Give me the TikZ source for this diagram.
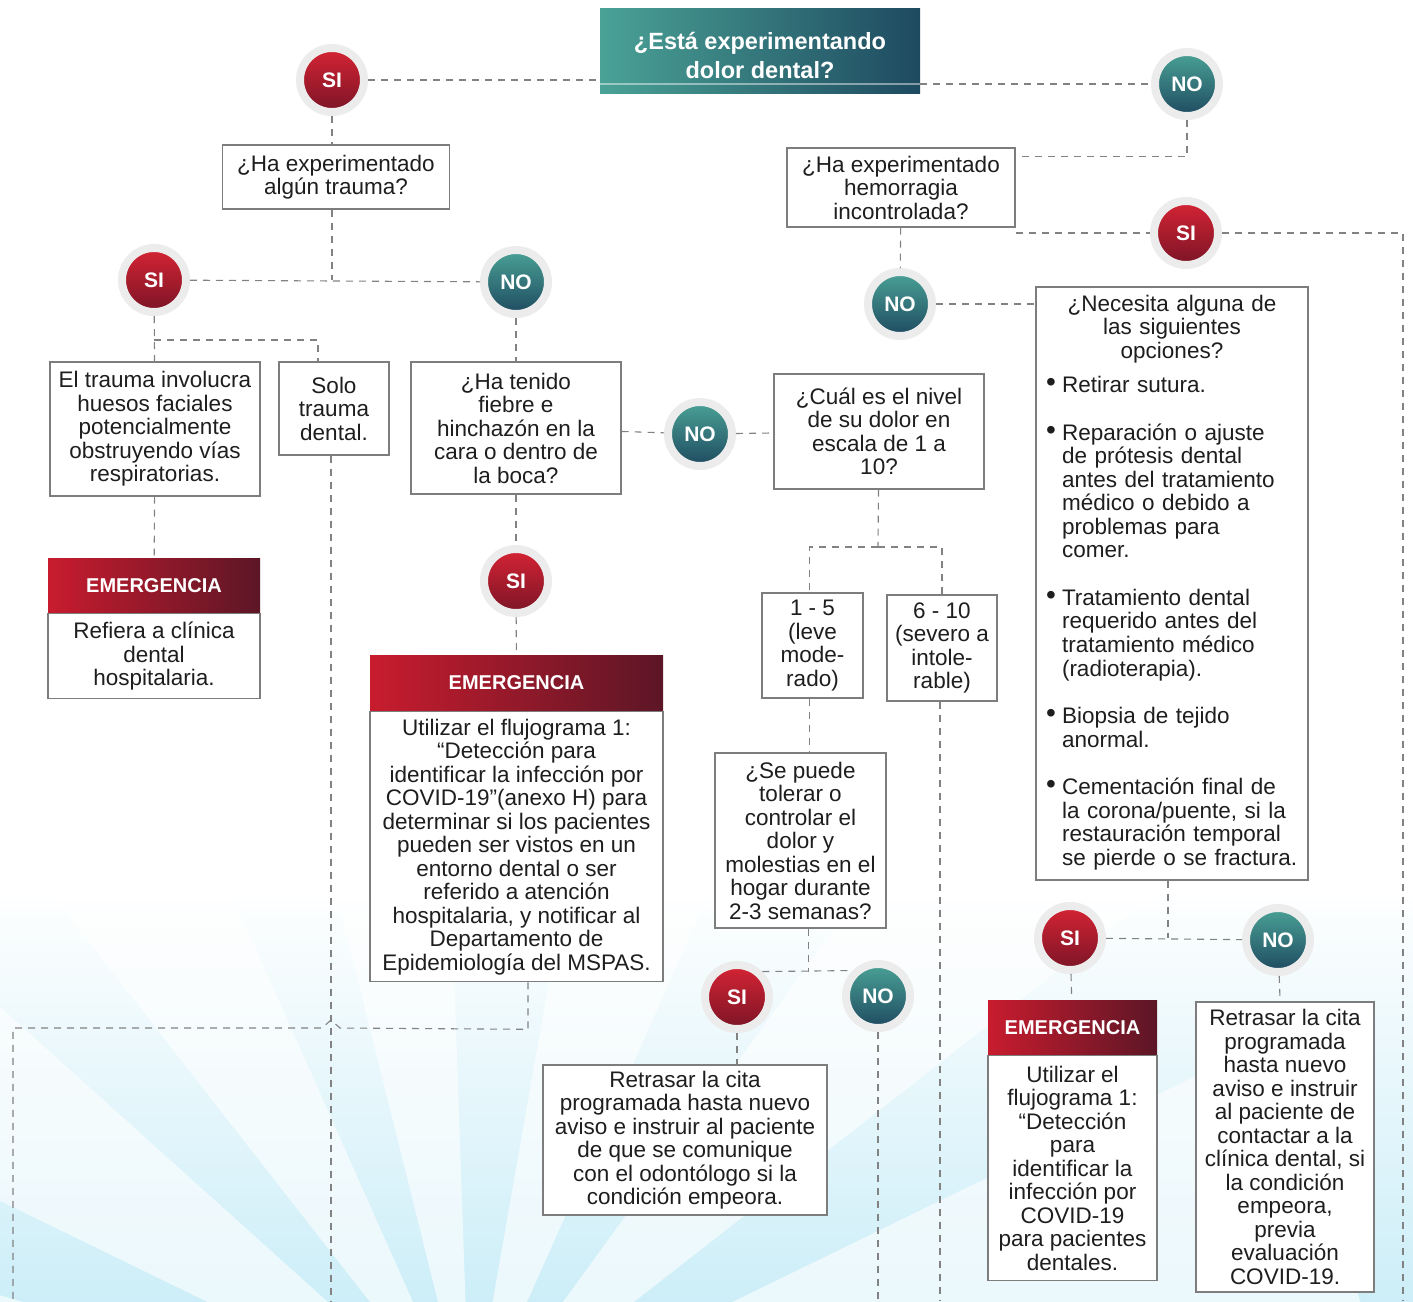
\documentclass[tikz,border=0pt]{standalone}
\usepackage{fontspec}
\setmainfont{Liberation Sans}
\usepackage{tikz}
\usetikzlibrary{positioning}
\usetikzlibrary{calc}

\definecolor{tealL}{RGB}{74,162,150}
\definecolor{tealD}{RGB}{30,74,96}
\definecolor{redL}{RGB}{214,36,52}
\definecolor{redD}{RGB}{122,20,38}
\definecolor{emL}{RGB}{200,28,46}
\definecolor{emD}{RGB}{92,22,38}
\definecolor{boxgray}{RGB}{125,125,125}
\definecolor{linegray}{RGB}{130,130,130}
\definecolor{halo}{RGB}{236,236,236}
\definecolor{txt}{RGB}{30,30,30}
\definecolor{sky}{RGB}{205,238,248}

\newcommand{\bodyfont}{\fontsize{22.5}{23.5}\selectfont}
\newcommand{\headfont}{\fontsize{20}{22}\selectfont\bfseries}
\newcommand{\circfont}{\fontsize{21}{22}\selectfont\bfseries}
\newcommand{\qfont}{\fontsize{23.5}{29}\selectfont\bfseries}
\newcommand{\bul}{\makebox[16pt][l]{\raisebox{1pt}{\fontsize{28}{23.5}\selectfont\textbullet}}}
\newcommand{\opcion}[1]{\bul\begin{tabular}[t]{@{}l@{}}#1\end{tabular}\par}

\begin{document}
\begin{tikzpicture}[x=1pt, y=-1pt,
    every node/.style={text=txt},
    qbox/.style={draw=boxgray, line width=1.1pt, fill=white, align=center, inner sep=3pt, font=\bodyfont},
    conn/.style={draw=linegray, line width=1.1pt, dash pattern=on 7pt off 6pt},
    sinode/.style={circle, minimum size=64, inner sep=0pt, draw=halo, line width=8pt, top color=redL, bottom color=redD, text=white, font=\circfont},
    nonode/.style={sinode, top color=tealL, bottom color=tealD},
    emhead/.style={minimum height=55, inner sep=0pt, left color=emL, right color=emD, text=white, font=\headfont}]

      \useasboundingbox (0,0) rectangle (1413,1301);

      % Background rays
      \shade[top color=white, bottom color=sky] (0,880) rectangle (1413,1301);
      \coordinate (focus) at (470,1430);
      \foreach \a/\b in {180/196, 206/222, 232/246, 256/268, 280/294, 306/322, 334/352} {
        \fill[white, opacity=0.6] (focus) -- ++(\a:900) -- ++($(\b:900)-(\a:900)$) -- cycle;
      }
      \fill[white] (0,0) rectangle (1413,900);

      % Top question
      \node[minimum width=320, minimum height=85, left color=tealL, right color=tealD] (qdolor) at (760,50.5) {};
      \draw[white, opacity=0.45, line width=1.5pt] ([yshift=9pt]qdolor.south west) -- ([yshift=9pt]qdolor.south east);
      \node[text=white, font=\qfont, align=center] (qdolortxt) at (760,55) {¿Está experimentando\\ dolor dental?};
      \node[sinode] (si1) at (332,80) {SI};
      \node[nonode] (no1) at (1187,84) {NO};

      % Trauma branch
      \node[qbox, minimum width=227, minimum height=64] (qtrauma) at (336,177) {¿Ha experimentado\\ algún trauma?};
      \node[sinode] (si2) at (154,280) {SI};
      \node[nonode] (no2) at (516,282) {NO};
      \node[qbox, minimum width=210, minimum height=134] (trauma) at (155,429) {El trauma involucra\\ huesos faciales\\ potencialmente\\ obstruyendo vías\\ respiratorias.};
      \node[qbox, minimum width=110, minimum height=93] (solo) at (334,408.5) {Solo\\ trauma\\ dental.};
      \node[emhead, minimum width=212] (emh1) at (154,585.5) {EMERGENCIA};
      \node[qbox, minimum width=212, minimum height=85, below=0pt of emh1] (emb1) {Refiera a clínica\\ dental\\ hospitalaria.};

      % Fever branch
      \node[qbox, minimum width=210, minimum height=132] (qfiebre) at (516,428) {¿Ha tenido\\ fiebre e\\ hinchazón en la\\ cara o dentro de\\ la boca?};
      \node[sinode] (si3) at (516,581) {SI};
      \node[nonode] (no3) at (700,434) {NO};
      \node[emhead, minimum width=293, minimum height=56] (emh2) at (516.5,683) {EMERGENCIA};
      \node[qbox, minimum width=293, minimum height=270, below=0pt of emh2] (emb2) {Utilizar el flujograma 1:\\ “Detección para\\ identificar la infección por\\ COVID-19”(anexo H) para\\ determinar si los pacientes\\ pueden ser vistos en un\\ entorno dental o ser\\ referido a atención\\ hospitalaria, y notificar al\\ Departamento de\\ Epidemiología del MSPAS.};

      % Pain scale branch
      \node[qbox, minimum width=210, minimum height=115] (qnivel) at (879,431.5) {¿Cuál es el nivel\\ de su dolor en\\ escala de 1 a\\ 10?};
      \node[qbox, minimum width=101, minimum height=105] (leve) at (812.5,645.5) {1 - 5\\ (leve\\ mode-\\ rado)};
      \node[qbox, minimum width=110, minimum height=106] (severo) at (942,648) {6 - 10\\ (severo a\\ intole-\\ rable)};
      \node[qbox, minimum width=171, minimum height=175] (qtolerar) at (800.5,840.5) {¿Se puede\\ tolerar o\\ controlar el\\ dolor y\\ molestias en el\\ hogar durante\\ 2-3 semanas?};
      \node[sinode] (si4) at (737,997) {SI};
      \node[nonode] (no4) at (878,996) {NO};
      \node[qbox, minimum width=284, minimum height=150] (retraso1) at (685,1140) {Retrasar la cita\\ programada hasta nuevo\\ aviso e instruir al paciente\\ de que se comunique\\ con el odontólogo si la\\ condición empeora.};

      % Bleeding branch
      \node[qbox, minimum width=228, minimum height=79] (qhemo) at (901,187.5) {¿Ha experimentado\\ hemorragia\\ incontrolada?};
      \node[sinode] (si5) at (1186,233) {SI};
      \node[nonode] (no5) at (900,304) {NO};
      \node[qbox, text width=252, inner xsep=10pt, minimum height=593, align=left] (qnecesita) at (1172,583.5) {%
        {\centering ¿Necesita alguna de\\ las siguientes\\ opciones?\par}\vspace{11pt}
        \opcion{Retirar sutura.}\vspace{23pt}
        \opcion{Reparación o ajuste\\ de prótesis dental\\ antes del tratamiento\\ médico o debido a\\ problemas para\\ comer.}\vspace{23pt}
        \opcion{Tratamiento dental\\ requerido antes del\\ tratamiento médico\\ (radioterapia).}\vspace{23pt}
        \opcion{Biopsia de tejido\\ anormal.}\vspace{23pt}
        \opcion{Cementación final de\\ la corona/puente, si la\\ restauración temporal\\ se pierde o se fractura.}};
      \node[sinode] (si6) at (1070,938) {SI};
      \node[nonode] (no6) at (1278,940) {NO};
      \node[emhead, minimum width=169] (emh3) at (1072.5,1027.5) {EMERGENCIA};
      \node[qbox, minimum width=169, minimum height=225, below=0pt of emh3] (emb3) {Utilizar el\\ flujograma 1:\\ “Detección\\ para\\ identificar la\\ infección por\\ COVID-19\\ para pacientes\\ dentales.};
      \node[qbox, minimum width=178, minimum height=290, inner sep=2pt] (retraso2) at (1285,1147) {Retrasar la cita\\ programada\\ hasta nuevo\\ aviso e instruir\\ al paciente de\\ contactar a la\\ clínica dental, si\\ la condición\\ empeora,\\ previa\\ evaluación\\ COVID-19.};

      % Loose ends leaving the page
      \coordinate (out1) at (13,1301);
      \coordinate (out2) at (331,1301);
      \coordinate (out3) at (940,1301);
      \coordinate (out4) at (878,1301);
      \coordinate (out5) at (1403,1301);
      \coordinate (split1) at (878,547);

      % Connectors
      \draw[conn] (si1) -- (si1 -| qdolor.west);
      \draw[conn] (qdolor.east |- no1) -- (no1);
      \draw[conn] (si1) -- (si1 |- qtrauma.north);
      \draw[conn] (qtrauma.south -| si1) -- (si1 |- si2);
      \draw[conn] (si2) -- (no2);
      \draw[conn] (si2) -- (trauma);
      \draw[conn] (si2 |- 0,340) -| ([xshift=-16pt]solo.north);
      \draw[conn] (no2) -- (qfiebre);
      \draw[conn] (trauma) -- (emh1);
      \draw[conn] (solo.south -| out2) -- (out2);
      \draw[conn] (qfiebre) -- (si3);
      \draw[conn] (si3) -- (emh2);
      \draw[conn] ([xshift=11.5pt]emb2.south) -- ++(0,47) -- (340,1028) -- ++(-9,-8) -- ++(-9,8) -- (13,1028) -- (out1);
      \draw[conn] (qfiebre) -- (no3);
      \draw[conn] (no3) -- (qnivel);
      \draw[conn] (qnivel) -- (split1);
      \draw[conn] (split1) -| ([xshift=-3pt]leve.north);
      \draw[conn] (split1) -| (severo.north);
      \draw[conn] ([xshift=-3pt]leve.south) -- ([xshift=-3pt]leve.south |- qtolerar.north);
      \draw[conn] (severo.south -| out3) -- (out3);
      \draw[conn] ([xshift=8pt]qtolerar.south) -- ([xshift=8pt]qtolerar.south |- si4.north east);
      \draw[conn] (si4.north east) -- (no4.north west);
      \draw[conn] (si4) -- (si4 |- retraso1.north);
      \draw[conn] (no4) -- (out4);
      \draw[conn] (no1) |- ([yshift=31pt]qhemo.east);
      \draw[conn] (qhemo.east |- si5) -- (si5);
      \draw[conn] (si5) -- (si5 -| out5) -- (out5);
      \draw[conn] (qhemo) -- (no5);
      \draw[conn] (no5) -- (no5 -| qnecesita.west);
      \draw[conn] ([xshift=-4pt]qnecesita.south) -- ([xshift=-4pt]qnecesita.south |- si6);
      \draw[conn] (si6) -- (no6);
      \draw[conn] (si6) -- (emh3);
      \draw[conn] (no6) -- (retraso2);

    \end{tikzpicture}
\end{document}
